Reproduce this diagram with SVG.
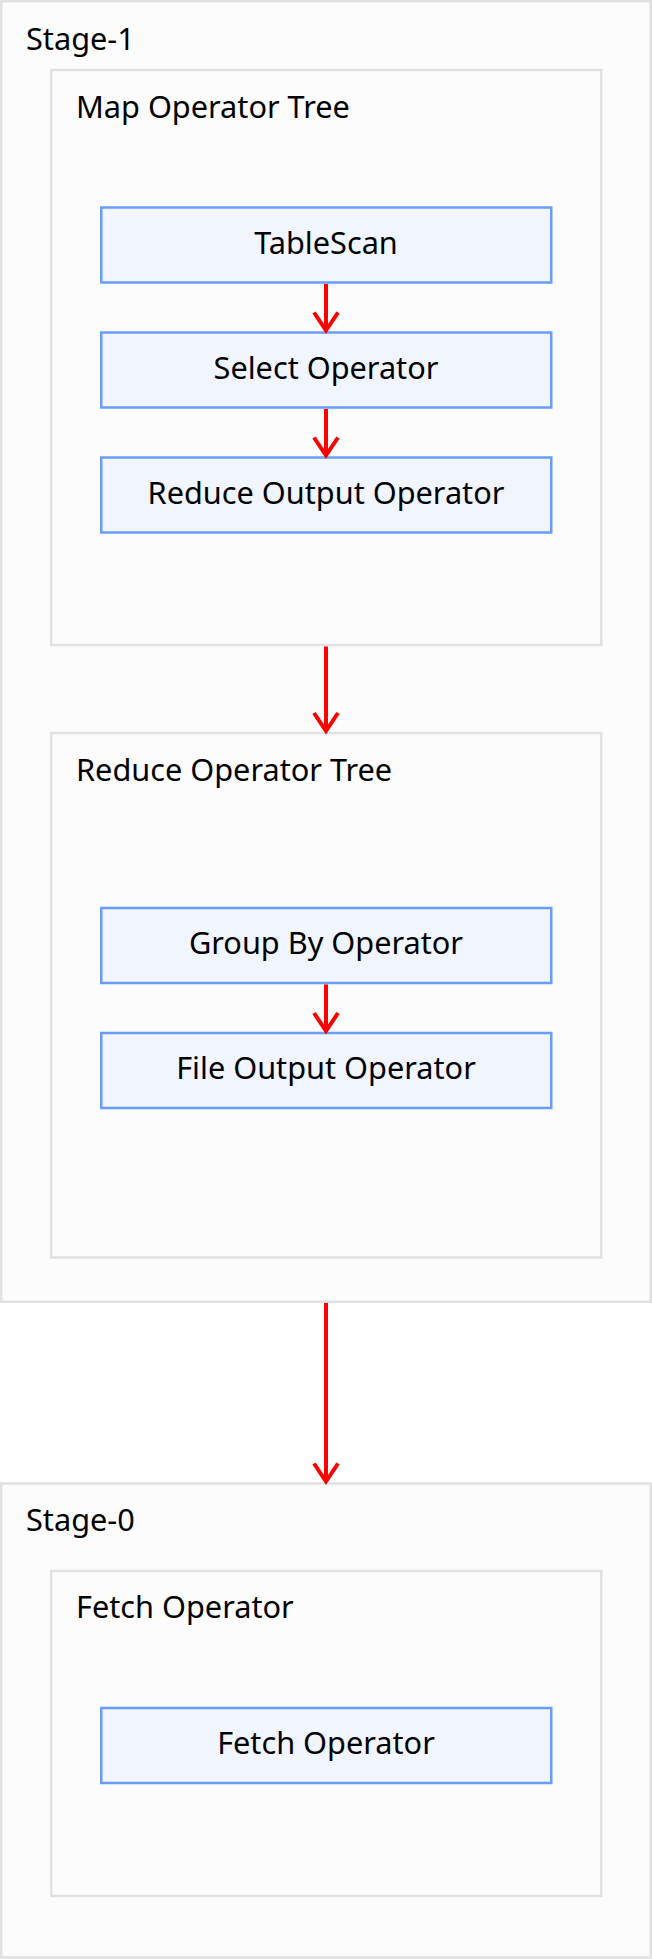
<svg xmlns="http://www.w3.org/2000/svg" width="652" height="1959" viewBox="0 0 652 1959">
<style>
.stage{fill:#fcfcfc;stroke:#e1e1e1;stroke-width:2.5}
.tree{fill:#fcfcfc;stroke:#e1e1e1;stroke-width:2.5}
.node{fill:#f0f5ff;stroke:#6a9cf9;stroke-width:2.5}
.lbl{font-family:"Noto Sans","Open Sans","Liberation Sans",sans-serif;font-size:30.7px;fill:#000}
.ntxt{font-family:"Noto Sans","Open Sans","Liberation Sans",sans-serif;font-size:30.7px;fill:#000;text-anchor:middle}
.edge{stroke:#ff0000;stroke-width:4;fill:none}
</style>
<defs>
<marker id="arr" markerUnits="userSpaceOnUse" viewBox="-22 -16 26 32" refX="0" refY="0" markerWidth="26" markerHeight="32" orient="auto">
<path d="M-18,-12 L0,0 L-18,12" fill="none" stroke="#ff0000" stroke-width="4"/>
</marker>
</defs>
<rect width="652" height="1959" fill="#ffffff"/>
<g id="stage-1">
<rect class="stage" x="1.25" y="1.25" width="649.5" height="1300.5"/>
<text class="lbl" x="26" y="50">Stage-1</text>
</g>
<g id="map-tree">
<rect class="tree" x="51.25" y="70" width="550" height="575"/>
<text class="lbl" x="76" y="118">Map Operator Tree</text>
</g>
<g id="tablescan">
<rect class="node" x="101.25" y="207.5" width="450" height="75"/>
<text class="ntxt" x="326" y="253.5">TableScan</text>
</g>
<g id="select-op">
<rect class="node" x="101.25" y="332.5" width="450" height="75"/>
<text class="ntxt" x="326" y="378.5">Select Operator</text>
</g>
<g id="reduce-output-op">
<rect class="node" x="101.25" y="457.5" width="450" height="75"/>
<text class="ntxt" x="326" y="503.5">Reduce Output Operator</text>
</g>
<g id="reduce-tree">
<rect class="tree" x="51.25" y="733" width="550" height="524.5"/>
<text class="lbl" x="76" y="781">Reduce Operator Tree</text>
</g>
<g id="groupby-op">
<rect class="node" x="101.25" y="908" width="450" height="75"/>
<text class="ntxt" x="326" y="954">Group By Operator</text>
</g>
<g id="fileoutput-op">
<rect class="node" x="101.25" y="1033" width="450" height="75"/>
<text class="ntxt" x="326" y="1079">File Output Operator</text>
</g>
<g id="stage-0">
<rect class="stage" x="1.25" y="1483.5" width="649.5" height="474"/>
<text class="lbl" x="26" y="1531">Stage-0</text>
</g>
<g id="fetch-tree">
<rect class="tree" x="51.25" y="1571" width="550" height="325"/>
<text class="lbl" x="76" y="1618">Fetch Operator</text>
</g>
<g id="fetch-op">
<rect class="node" x="101.25" y="1708" width="450" height="75"/>
<text class="ntxt" x="326" y="1754">Fetch Operator</text>
</g>
<g id="connectors">
<line class="edge" x1="326" y1="284" x2="326" y2="330.5" marker-end="url(#arr)"/>
<line class="edge" x1="326" y1="409" x2="326" y2="455.5" marker-end="url(#arr)"/>
<line class="edge" x1="326" y1="646.5" x2="326" y2="731" marker-end="url(#arr)"/>
<line class="edge" x1="326" y1="984.5" x2="326" y2="1031" marker-end="url(#arr)"/>
<line class="edge" x1="326" y1="1303" x2="326" y2="1481.5" marker-end="url(#arr)"/>
</g>
</svg>
